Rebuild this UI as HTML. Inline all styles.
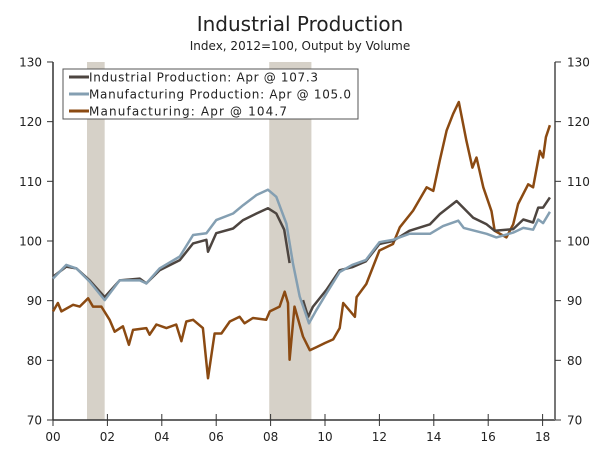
<!DOCTYPE html>
<html><head><meta charset="utf-8"><style>
body{margin:0;background:#fff}
svg text{font-family:"DejaVu Sans","Liberation Sans",sans-serif;fill:#222}
</style></head><body>
<svg id="chart" width="600" height="458" xmlns="http://www.w3.org/2000/svg">
<text x="300" y="31" text-anchor="middle" font-size="20">Industrial Production</text>
<text x="300" y="50" text-anchor="middle" font-size="12">Index, 2012=100, Output by Volume</text>
<g id="rec"></g><g id="axes"></g><g id="lines"></g>
<g>
<rect x="63" y="69" width="295" height="50" fill="#fff" stroke="#555" stroke-width="1"/>
<line x1="69" y1="77" x2="89" y2="77" stroke="#4d4540" stroke-width="3"/>
<text x="89" y="81.5" font-size="12" textLength="229">Industrial Production: Apr @ 107.3</text>
<line x1="69" y1="94" x2="89" y2="94" stroke="#849fb2" stroke-width="3"/>
<text x="89" y="98.5" font-size="12" textLength="262">Manufacturing Production: Apr @ 105.0</text>
<line x1="69" y1="111" x2="89" y2="111" stroke="#8b4a12" stroke-width="3"/>
<text x="89" y="115.5" font-size="12" textLength="198">Manufacturing: Apr @ 104.7</text>
</g>
</svg>
<script>
const recStart=[1.25,7.95];
const recEnd=[1.9,9.5];
const yTicks=[70,80,90,100,110,120,130];
const xTickYears=[0,2,4,6,8,10,12,14,16,18];
const xTickLabels=["00","02","04","06","08","10","12","14","16","18"];
const indT=[0,0.49,0.86,1.35,1.9,2.45,3.19,3.43,3.92,4.66,5.15,5.64,5.7,6.0,6.62,6.99,7.48,7.9,8.21,8.5,8.7,null,9.19,9.38,9.56,10.05,10.54,11.0,11.5,12.0,12.5,13.1,13.86,14.22,14.84,15.45,15.94,16.24,16.92,17.29,17.65,17.84,18.02,18.27];
const indV=[94,95.7,95.4,93.4,90.6,93.4,93.7,92.9,95.1,96.8,99.6,100.2,98.2,101.3,102.1,103.5,104.6,105.5,104.6,101.9,96.3,null,90.1,87.3,89,91.8,95.1,95.6,96.6,99.5,100,101.7,102.8,104.5,106.7,103.9,102.8,101.7,102,103.6,103.1,105.6,105.6,107.3];
const mfgT=[0,0.49,0.86,1.35,1.9,2.45,3.19,3.43,3.92,4.66,5.15,5.64,6.0,6.62,6.99,7.48,7.9,8.21,8.58,8.82,9.07,9.41,9.68,10.05,10.54,11.0,11.5,12.0,12.5,13.1,13.86,14.34,14.9,15.1,15.94,16.3,16.92,17.29,17.65,17.84,18.02,18.27];
const mfgV=[93.7,96,95.4,93.2,90.1,93.4,93.4,92.9,95.4,97.4,101,101.3,103.5,104.6,106,107.7,108.6,107.4,102.9,96.3,90.7,86.2,88.4,91.2,94.8,96,96.8,99.8,100.2,101.2,101.2,102.5,103.4,102.2,101.2,100.6,101.4,102.2,101.9,103.6,103,104.9];
const manT=[0,0.18,0.31,0.74,0.98,1.29,1.47,1.78,2.08,2.27,2.57,2.79,2.94,3.43,3.55,3.8,4.17,4.53,4.72,4.9,5.15,5.51,5.7,5.94,6.19,6.5,6.86,7.04,7.35,7.84,7.97,8.33,8.52,8.64,8.7,8.88,9.19,9.44,9.68,10.0,10.3,10.54,10.67,11.1,11.16,11.52,12.0,12.5,12.75,13.24,13.74,13.98,14.22,14.47,14.71,14.92,15.2,15.42,15.57,15.82,16.12,16.24,16.67,16.92,17.1,17.47,17.65,17.9,18.02,18.12,18.27];
const manV=[88.2,89.6,88.2,89.3,89,90.4,89,89,86.8,84.8,85.7,82.6,85.1,85.4,84.3,86,85.4,86,83.2,86.5,86.8,85.4,77,84.5,84.5,86.5,87.3,86.2,87.1,86.8,88.2,89,91.5,89.6,80.1,89,84,81.7,82.2,82.9,83.5,85.4,89.6,87.3,90.6,92.8,98.4,99.5,102.3,105.1,109,108.4,113.5,118.5,121.3,123.3,116.8,112.3,114,109,105,101.7,100.6,102.8,106.2,109.5,109,115.1,114,117.4,119.4];
const NS="http://www.w3.org/2000/svg";
const X=yr=>53+yr*27.2, Y=v=>420-(v-70)*5.967;
function mk(tag,at,parent){const e=document.createElementNS(NS,tag);for(const k in at)e.setAttribute(k,at[k]);document.getElementById(parent).appendChild(e);return e;}
recStart.forEach((s,i)=>{const r=mk('rect',{x:X(s),y:62,width:X(recEnd[i])-X(s),height:358,fill:'#d6d1c8'},'rec');

});
mk('line',{x1:53,y1:62,x2:53,y2:420,stroke:'#333','stroke-width':1.5},'axes');
mk('line',{x1:53,y1:420,x2:555,y2:420,stroke:'#333','stroke-width':1.5},'axes');
mk('line',{x1:555,y1:62,x2:555,y2:420,stroke:'#777','stroke-width':2},'axes');
yTicks.forEach(v=>{const y=Y(v);
mk('line',{x1:47,y1:y,x2:53,y2:y,stroke:'#333'},'axes');
mk('line',{x1:555,y1:y,x2:561,y2:y,stroke:'#333'},'axes');
const a=mk('text',{x:42,y:y+4.5,'text-anchor':'end','font-size':12},'axes');a.textContent=v;


const b=mk('text',{x:567,y:y+4.5,'font-size':12},'axes');b.textContent=v;

});
xTickYears.forEach((yr,i)=>{const x=X(yr);
mk('line',{x1:x,y1:414,x2:x,y2:426,stroke:'#333'},'axes');
const t=mk('text',{x:x,y:441,'text-anchor':'middle','font-size':12},'axes');t.textContent=xTickLabels[i];

});
function series(T,V,color,name){let d='',pen=false;
T.forEach((t,i)=>{if(t===null||V[i]===null){pen=false;return;}d+=(pen?'L':'M')+X(t).toFixed(1)+','+Y(V[i]).toFixed(1);pen=true;});
const p=mk('path',{d:d,fill:'none',stroke:color,'stroke-width':2.5,'stroke-linejoin':'round'},'lines');

}
series(manT,manV,'#8b4a12','manufacturing-line');
series(indT,indV,'#4d4540','industrial-production-line');
series(mfgT,mfgV,'#849fb2','manufacturing-production-line');
</script>
</body></html>
